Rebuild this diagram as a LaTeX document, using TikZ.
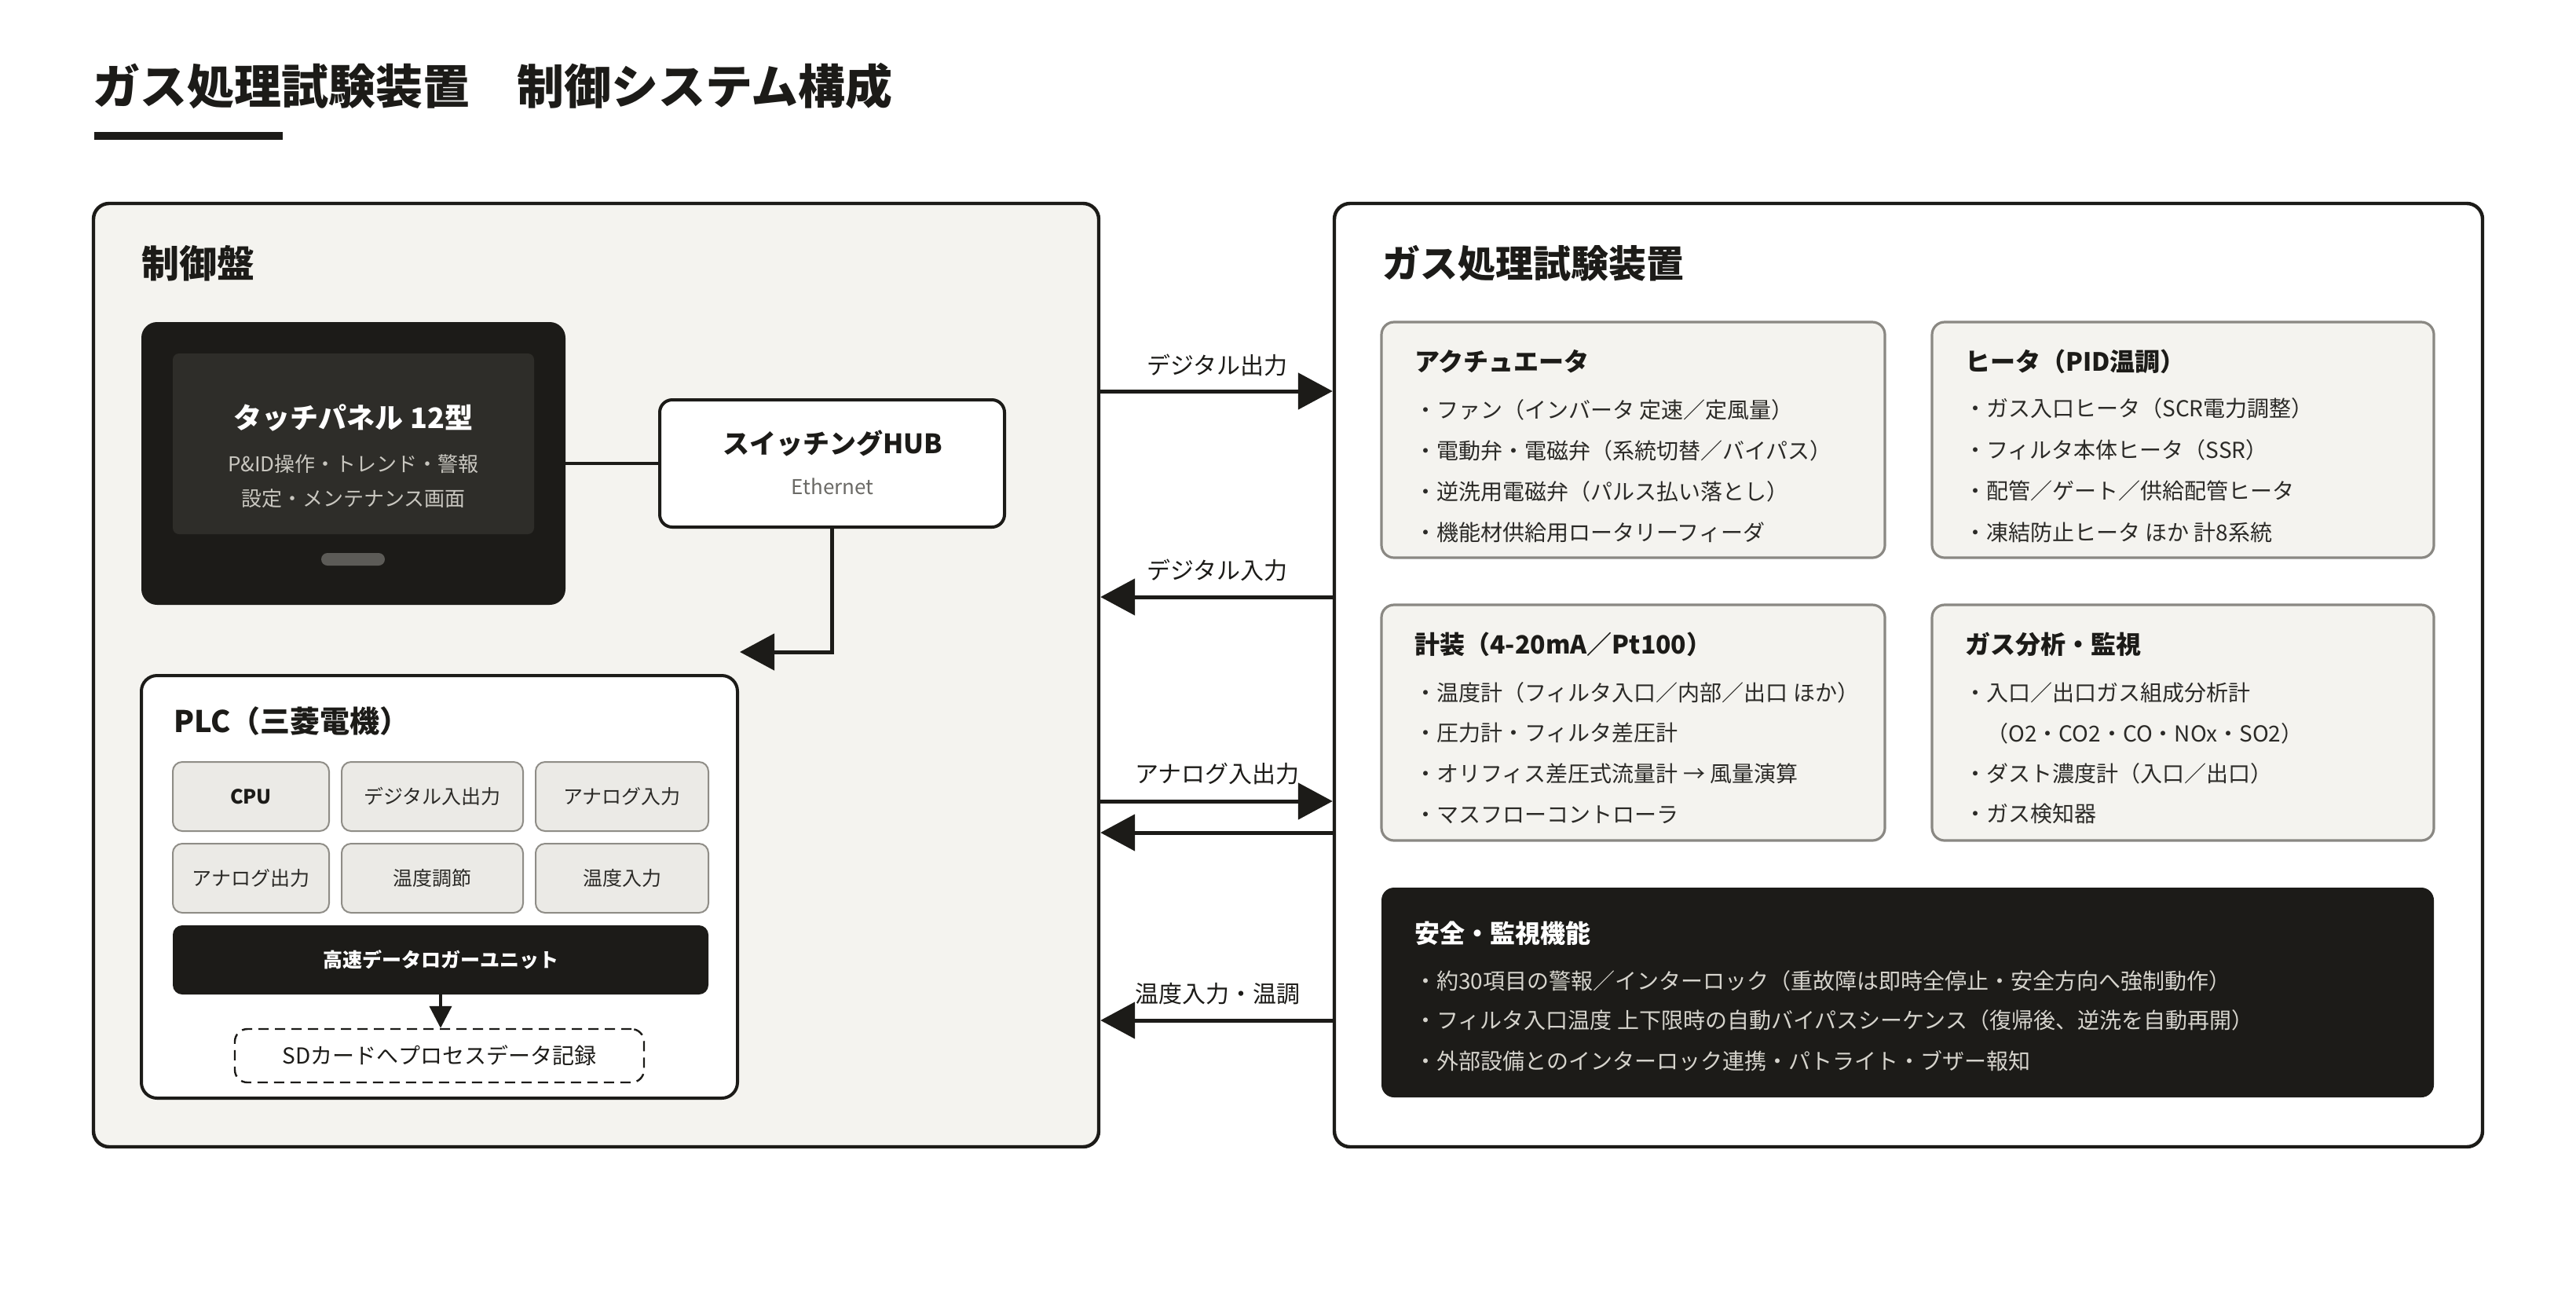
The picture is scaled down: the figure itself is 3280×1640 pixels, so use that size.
\documentclass[tikz,border=0pt]{standalone}
\usepackage{fontspec}
\setmainfont{Noto Sans CJK JP}
\usetikzlibrary{arrows.meta,fit}
\definecolor{ink}{HTML}{1C1B18}
\definecolor{panelfill}{HTML}{F4F3EF}
\definecolor{subfill}{HTML}{F4F3EF}
\definecolor{subborder}{HTML}{8A8883}
\definecolor{modfill}{HTML}{EBEAE6}
\definecolor{modborder}{HTML}{8F8D87}
\definecolor{screenfill}{HTML}{2E2D29}
\definecolor{btnfill}{HTML}{5C5B57}
\definecolor{screentext}{HTML}{C9C7C0}
\definecolor{mutedtext}{HTML}{6B6A66}
\definecolor{itemtext}{HTML}{2B2A27}
\definecolor{safetext}{HTML}{D6D4CD}
\newcommand\myfs[1]{\fontsize{#1pt}{#1pt}\selectfont}
\begin{document}
\begin{tikzpicture}[x=0.5pt,y=-0.5pt,
  panel/.style={draw=ink,line width=2.2pt,rounded corners=10pt,inner sep=0pt},
  subbox/.style={draw=subborder,fill=subfill,line width=1.6pt,rounded corners=8pt,inner sep=0pt},
  modbox/.style={draw=modborder,fill=modfill,line width=1pt,rounded corners=6pt,inner sep=0pt},
  darkbox/.style={fill=ink,rounded corners=8pt,inner sep=0pt},
  txt/.style={inner sep=0pt,anchor=west,text=ink},
  ctxt/.style={inner sep=0pt,anchor=center,text=ink},
  item/.style={inner sep=0pt,anchor=west,text=itemtext,font=\myfs{14}},
  sitem/.style={inner sep=0pt,anchor=west,text=safetext,font=\myfs{14}},
  sectitle/.style={inner sep=0pt,anchor=west,text=ink,font=\myfs{16}\bfseries},
  arrlabel/.style={inner sep=0pt,anchor=center,text=ink,font=\myfs{15}},
  arr/.style={draw=ink,line width=2.5pt,-{Triangle[length=22pt,width=23pt]}},
  smallarr/.style={draw=ink,line width=2pt,-{Triangle[length=14pt,width=14pt]}},
  link/.style={draw=ink,line width=2pt}
]
% canvas
\fill[white] (0,0) rectangle (3280,1640);
\useasboundingbox (0,0) rectangle (3280,1640);

% title
\node[txt,font=\myfs{30}\bfseries] (title) at (118,110) {ガス処理試験装置　制御システム構成};
\fill[ink] (120,168) rectangle (360,178);

% panels
\node[panel,fill=panelfill,fit={(119,259) (1399,1460)}] (ctrl) {};
\node[panel,fill=white,fit={(1699,259) (3161,1460)}] (dev) {};
\node[txt,font=\myfs{24}\bfseries] (ctrllabel) at (180,335) {制御盤};
\node[txt,font=\myfs{24}\bfseries] (devlabel) at (1760,335) {ガス処理試験装置};

% touch panel
\node[fill=ink,rounded corners=10pt,inner sep=0pt,fit={(180,410) (720,770)}] (tp) {};
\node[fill=screenfill,rounded corners=4pt,inner sep=0pt,fit={(220,450) (680,680)}] (screen) {};
\node[fill=btnfill,rounded corners=4pt,inner sep=0pt,fit={(409,704) (490,720)}] (btn) {};
\node[ctxt,text=white,font=\myfs{18}\bfseries] (tptitle) at (450,532) {タッチパネル 12型};
\node[ctxt,text=screentext,font=\myfs{13}] (tpl1) at (450,591) {P\&ID操作・トレンド・警報};
\node[ctxt,text=screentext,font=\myfs{13}] (tpl2) at (450,635) {設定・メンテナンス画面};

% hub
\node[draw=ink,fill=white,line width=2pt,rounded corners=8pt,inner sep=0pt,fit={(840,509) (1279,671)}] (hub) {};
\node[ctxt,font=\myfs{17}\bfseries] (hubtitle) at (1060,564) {スイッチングHUB};
\node[ctxt,text=mutedtext,font=\myfs{13}] (hubsub) at (1060,619) {Ethernet};

\draw[link] (tp.east) -- (hub.west);
\coordinate (plcin) at (942,830);
\draw[arr] (hub.south) |- (plcin);

% PLC
\node[draw=ink,fill=white,line width=2pt,rounded corners=10pt,inner sep=0pt,fit={(180,860) (939,1398)}] (plc) {};
\node[txt,font=\myfs{19}\bfseries] (plctitle) at (221,918) {PLC（三菱電機）};
\node[modbox,fit={(220,970) (419,1058)}] (cpu) {};
\node[modbox,fit={(435,970) (666,1058)}] (dio) {};
\node[modbox,fit={(682,970) (902,1058)}] (ain) {};
\node[modbox,fit={(220,1074) (419,1162)}] (aout) {};
\node[modbox,fit={(435,1074) (666,1162)}] (tctl) {};
\node[modbox,fit={(682,1074) (902,1162)}] (tin) {};
\node[ctxt,font=\myfs{12.5}\bfseries] at (cpu.center) {CPU};
\node[ctxt,text=itemtext,font=\myfs{12.5}] at (dio.center) {デジタル入出力};
\node[ctxt,text=itemtext,font=\myfs{12.5}] at (ain.center) {アナログ入力};
\node[ctxt,text=itemtext,font=\myfs{12.5}] at (aout.center) {アナログ出力};
\node[ctxt,text=itemtext,font=\myfs{12.5}] at (tctl.center) {温度調節};
\node[ctxt,text=itemtext,font=\myfs{12.5}] at (tin.center) {温度入力};
\node[fill=ink,rounded corners=6pt,inner sep=0pt,fit={(220,1178) (902,1266)}] (logger) {};
\node[ctxt,text=white,font=\myfs{12.5}\bfseries] at (logger.center) {高速データロガーユニット};
\node[draw=ink,fill=white,dashed,dash pattern=on 6.5pt off 4pt,line width=1.2pt,rounded corners=8pt,inner sep=0pt,fit={(299,1310) (820,1378)}] (sd) {};
\node[ctxt,font=\myfs{14}] at (sd.center) {SDカードへプロセスデータ記録};
\draw[smallarr] (logger.south) -- (logger.south |- sd.north);

% device sub boxes
\node[subbox,fit={(1759,410) (2400,710)}] (act) {};
\node[subbox,fit={(2460,410) (3099,710)}] (heat) {};
\node[subbox,fit={(1759,770) (2400,1070)}] (inst) {};
\node[subbox,fit={(2460,770) (3099,1070)}] (gas) {};
\node[darkbox,fit={(1759,1130) (3099,1397)}] (safe) {};

\node[sectitle] at (1801,460) {アクチュエータ};
\node[item] at (1801,522) {・ファン（インバータ 定速／定風量）};
\node[item] at (1801,574) {・電動弁・電磁弁（系統切替／バイパス）};
\node[item] at (1801,626) {・逆洗用電磁弁（パルス払い落とし）};
\node[item] at (1801,678) {・機能材供給用ロータリーフィーダ};

\node[sectitle] at (2502,460) {ヒータ（PID温調）};
\node[item] at (2501,520) {・ガス入口ヒータ（SCR電力調整）};
\node[item] at (2501,573) {・フィルタ本体ヒータ（SSR）};
\node[item] at (2501,625) {・配管／ゲート／供給配管ヒータ};
\node[item] at (2501,678) {・凍結防止ヒータ ほか 計8系統};

\node[sectitle] at (1801,820) {計装（4-20mA／Pt100）};
\node[item] at (1801,882) {・温度計（フィルタ入口／内部／出口 ほか）};
\node[item] at (1801,933) {・圧力計・フィルタ差圧計};
\node[item] at (1801,985) {・オリフィス差圧式流量計 → 風量演算};
\node[item] at (1801,1037) {・マスフローコントローラ};

\node[sectitle] at (2502,820) {ガス分析・監視};
\node[item] at (2501,882) {・入口／出口ガス組成分析計};
\node[item] at (2529,934) {（O2・CO2・CO・NOx・SO2）};
\node[item] at (2501,985) {・ダスト濃度計（入口／出口）};
\node[item] at (2501,1036) {・ガス検知器};

\node[sectitle,text=white] at (1801,1188) {安全・監視機能};
\node[sitem] at (1801,1249) {・約30項目の警報／インターロック（重故障は即時全停止・安全方向へ強制動作）};
\node[sitem] at (1801,1299) {・フィルタ入口温度 上下限時の自動バイパスシーケンス（復帰後、逆洗を自動再開）};
\node[sitem] at (1801,1351) {・外部設備とのインターロック連携・パトライト・ブザー報知};

% connections between panels
\coordinate (ya) at (0,498);
\coordinate (yb) at (0,760);
\coordinate (yc) at (0,1020);
\coordinate (yd) at (0,1060);
\coordinate (ye) at (0,1299);
\draw[arr] (ctrl.east |- ya) -- (dev.west |- ya);
\draw[arr] (dev.west |- yb) -- (ctrl.east |- yb);
\draw[arr] (ctrl.east |- yc) -- (dev.west |- yc);
\draw[arr] (dev.west |- yd) -- (ctrl.east |- yd);
\draw[arr] (dev.west |- ye) -- (ctrl.east |- ye);
\node[arrlabel] (la) at (1550,465) {デジタル出力};
\node[arrlabel] (lb) at (1550,726) {デジタル入力};
\node[arrlabel] (lc) at (1550,985) {アナログ入出力};
\node[arrlabel] (ld) at (1550,1265) {温度入力・温調};
\end{tikzpicture}
\end{document}
